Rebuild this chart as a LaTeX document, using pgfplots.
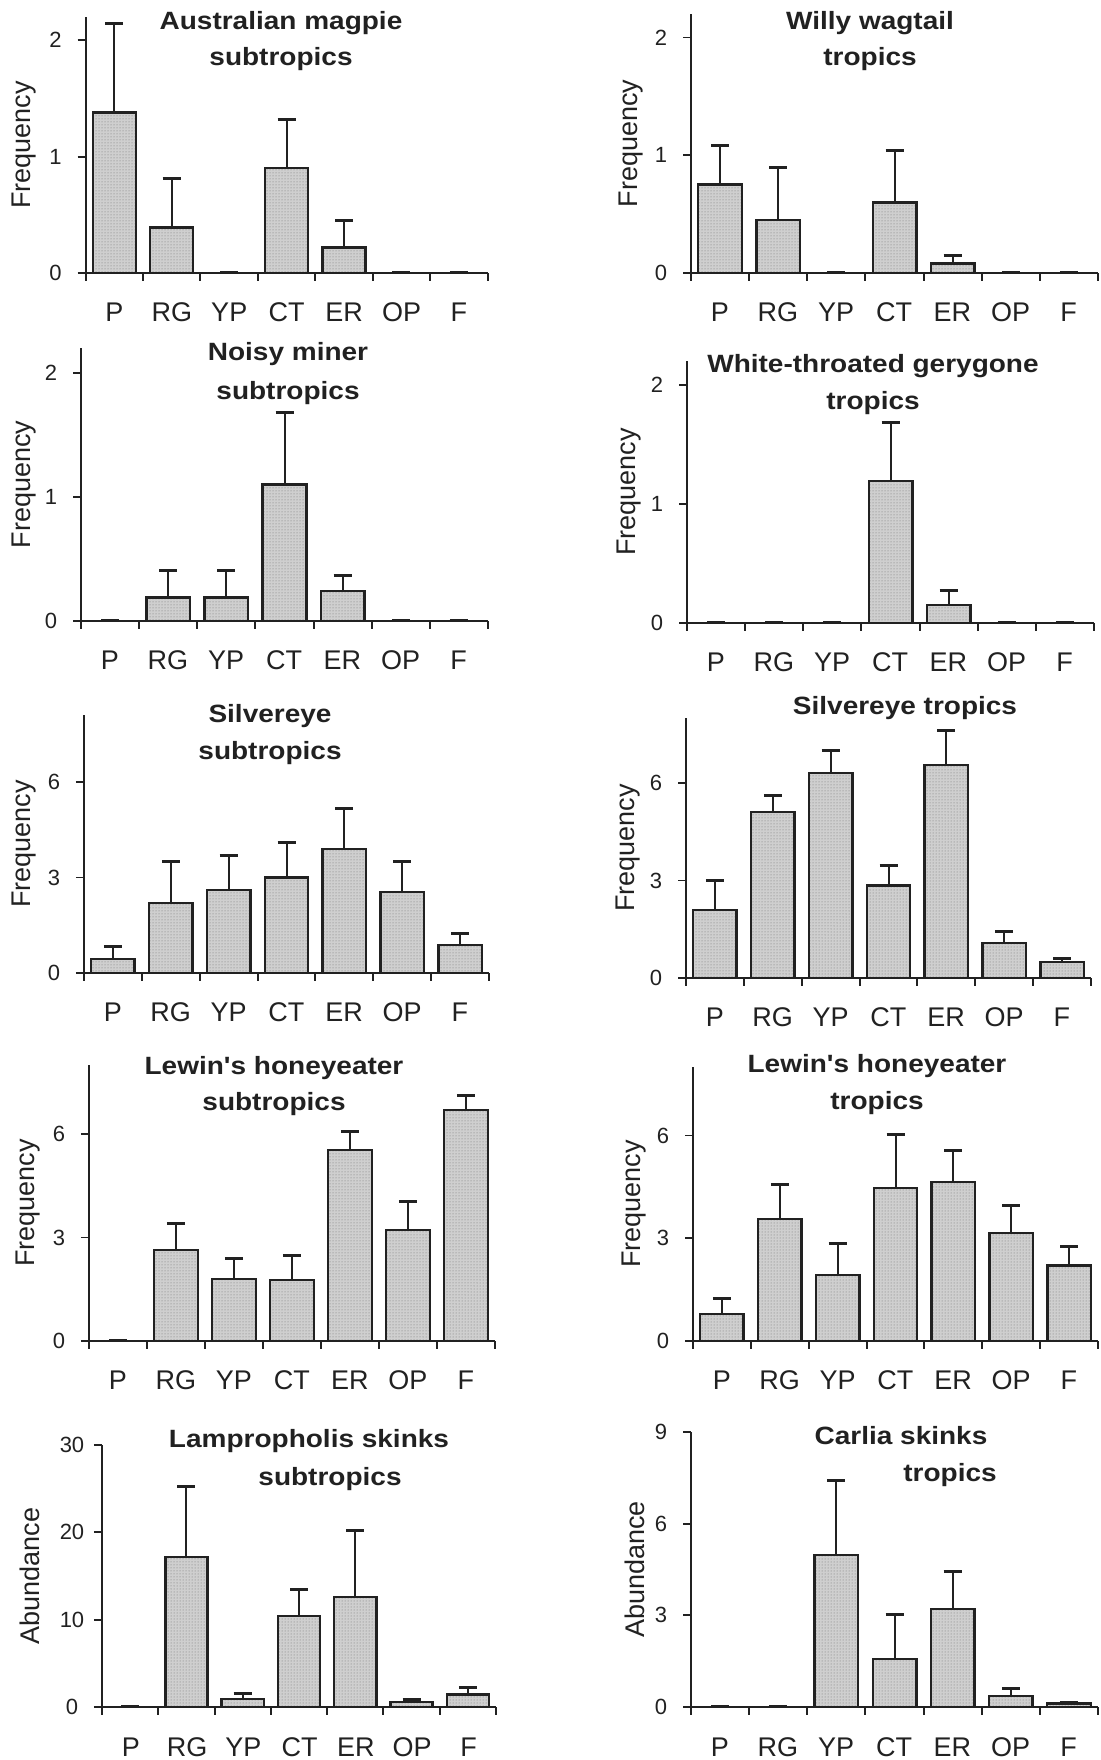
\documentclass[border=0pt]{standalone}
\usepackage{fontspec}
\setmainfont{Liberation Sans}
\newfontfamily\titlefont{Liberation Sans}[FakeStretch=1.12]
\usepackage{pgfplots}
\usepackage{pgfplotstable}
\pgfplotsset{compat=1.18}
\usetikzlibrary{patterns}

\definecolor{ink}{gray}{0.13}

% mean and standard error per habitat: P RG YP CT ER OP F
\pgfplotstableread{
x   y     e
0.5 1.38  0.76
1.5 0.39  0.42
2.5 0     0
3.5 0.90  0.42
4.5 0.22  0.23
5.5 0     0
6.5 0     0
}\magpie
\pgfplotstableread{
x   y     e
0.5 0.75  0.33
1.5 0.45  0.45
2.5 0     0
3.5 0.60  0.44
4.5 0.08  0.07
5.5 0     0
6.5 0     0
}\wagtail
\pgfplotstableread{
x   y     e
0.5 0     0
1.5 0.19  0.22
2.5 0.19  0.22
3.5 1.10  0.58
4.5 0.24  0.13
5.5 0     0
6.5 0     0
}\miner
\pgfplotstableread{
x   y     e
0.5 0     0
1.5 0     0
2.5 0     0
3.5 1.19  0.49
4.5 0.15  0.12
5.5 0     0
6.5 0     0
}\gerygone
\pgfplotstableread{
x   y     e
0.5 0.44  0.38
1.5 2.20  1.30
2.5 2.60  1.10
3.5 3.00  1.10
4.5 3.90  1.25
5.5 2.55  0.95
6.5 0.88  0.37
}\silvsub
\pgfplotstableread{
x   y     e
0.5 2.10  0.90
1.5 5.10  0.50
2.5 6.30  0.70
3.5 2.85  0.60
4.5 6.55  1.05
5.5 1.08  0.34
6.5 0.50  0.10
}\silvtrop
\pgfplotstableread{
x   y     e
0.5 0     0
1.5 2.64  0.78
2.5 1.80  0.60
3.5 1.77  0.72
4.5 5.54  0.52
5.5 3.22  0.81
6.5 6.70  0.43
}\lewsub
\pgfplotstableread{
x   y     e
0.5 0.78  0.47
1.5 3.57  1.01
2.5 1.93  0.92
3.5 4.47  1.56
4.5 4.64  0.93
5.5 3.15  0.82
6.5 2.20  0.56
}\lewtrop
\pgfplotstableread{
x   y     e
0.5 0     0
1.5 17.2  8.0
2.5 0.9   0.7
3.5 10.4  3.1
4.5 12.6  7.6
5.5 0.57  0.28
6.5 1.45  0.75
}\lampro
\pgfplotstableread{
x   y     e
0.5 0     0
1.5 0     0
2.5 4.97  2.45
3.5 1.57  1.47
4.5 3.20  1.24
5.5 0.36  0.26
6.5 0.12  0.04
}\carlia

\pgfplotsset{
  panel/.style={
    scale only axis, anchor=south west,
    xmin=0, xmax=7, ymin=0,
    axis lines*=left,
    axis line style={line width=1.8pt, ink},
    tick align=outside, tick pos=left,
    % ticks between the habitats, names shifted to the middle of each slot
    xtick={0,1,...,7},
    xticklabels={P,RG,YP,CT,ER,OP,F,{}},
    major tick length=8pt,
    xtick style={line width=2pt, draw=ink},
    ytick style={line width=1.8pt, draw=ink},
    xticklabel style={font=\fontsize{27}{30}\selectfont, text=ink, anchor=base, yshift=-41pt, xshift=28.8pt},
    yticklabel style={font=\fontsize{22}{24}\selectfont, text=ink, anchor=center, xshift=-22pt},
    /pgf/number format/assume math mode=true,
    ylabel={Frequency},
    ylabel style={font=\fontsize{27}{30}\selectfont, text=ink, anchor=center},
  },
  bars/.style={
    ybar, bar width=0.75, bar shift=0pt,
    fill=black!19, draw=ink, line width=2.4pt,
    postaction={pattern=dots, pattern color=black!55},
    error bars/.cd, y dir=plus, y explicit,
    error bar style={line width=2pt, ink},
    error mark options={rotate=90, line width=3pt, mark size=9pt, ink},
  },
}

\tikzset{ttl/.style={font=\titlefont\bfseries\fontsize{25}{28}\selectfont, text=ink, anchor=mid}}

\begin{document}
\begin{tikzpicture}[x=1pt, y=1pt]
\useasboundingbox (0,0) rectangle (1100,1760);

% row 1
\begin{axis}[panel, at={(85.6pt,1487pt)}, width=402pt, height=256pt,
  ymax=2.2, ytick={0,1,2}, ylabel style={at={(axis description cs:-0.152,0.5)}}]
\addplot[bars] table[x=x, y=y, y error=e] {\magpie};
\end{axis}
\begin{axis}[panel, at={(691pt,1487pt)}, width=407pt, height=259pt,
  ymax=2.2, ytick={0,1,2}, ylabel style={at={(axis description cs:-0.147,0.5)}}]
\addplot[bars] table[x=x, y=y, y error=e] {\wagtail};
\end{axis}

% row 2
\begin{axis}[panel, at={(81pt,1139pt)}, width=407pt, height=273pt,
  ymax=2.2, ytick={0,1,2}, ylabel style={at={(axis description cs:-0.139,0.5)}}]
\addplot[bars] table[x=x, y=y, y error=e] {\miner};
\end{axis}
\begin{axis}[panel, at={(687pt,1137pt)}, width=407pt, height=262pt,
  ymax=2.2, ytick={0,1,2}, ylabel style={at={(axis description cs:-0.143,0.5)}}]
\addplot[bars] table[x=x, y=y, y error=e] {\gerygone};
\end{axis}

% row 3
\begin{axis}[panel, at={(84pt,787pt)}, width=405pt, height=258pt,
  ymax=8.1, ytick={0,3,6}, ylabel style={at={(axis description cs:-0.147,0.5)}}]
\addplot[bars] table[x=x, y=y, y error=e] {\silvsub};
\end{axis}
\begin{axis}[panel, at={(686pt,782pt)}, width=405pt, height=260pt,
  ymax=8, ytick={0,3,6}, ylabel style={at={(axis description cs:-0.143,0.5)}}]
\addplot[bars] table[x=x, y=y, y error=e] {\silvtrop};
\end{axis}

% row 4
\begin{axis}[panel, at={(89pt,419pt)}, width=406pt, height=276pt,
  ymax=8, ytick={0,3,6}, ylabel style={at={(axis description cs:-0.150,0.5)}}]
\addplot[bars] table[x=x, y=y, y error=e] {\lewsub};
\end{axis}
\begin{axis}[panel, at={(693pt,419pt)}, width=405pt, height=274pt,
  ymax=8, ytick={0,3,6}, ylabel style={at={(axis description cs:-0.146,0.5)}}]
\addplot[bars] table[x=x, y=y, y error=e] {\lewtrop};
\end{axis}

% row 5
\begin{axis}[panel, at={(102pt,53pt)}, width=394pt, height=262pt,
  ymax=30, ytick={0,10,20,30}, ylabel={Abundance},
  ylabel style={at={(axis description cs:-0.183,0.5)}}]
\addplot[bars] table[x=x, y=y, y error=e] {\lampro};
\end{axis}
\begin{axis}[panel, at={(691pt,53pt)}, width=407pt, height=275pt,
  ymax=9, ytick={0,3,6,9}, ylabel={Abundance},
  ylabel style={at={(axis description cs:-0.138,0.5)}}]
\addplot[bars] table[x=x, y=y, y error=e] {\carlia};
\end{axis}

% panel titles
\node[ttl] at (281,1733) {Australian magpie};
\node[ttl] at (281,1697) {subtropics};
\node[ttl] at (870,1733) {Willy wagtail};
\node[ttl] at (870,1697) {tropics};
\node[ttl] at (288,1402) {Noisy miner};
\node[ttl] at (288,1363) {subtropics};
\node[ttl] at (873,1390) {White-throated gerygone};
\node[ttl] at (873,1353) {tropics};
\node[ttl] at (270,1040) {Silvereye};
\node[ttl] at (270,1003) {subtropics};
\node[ttl] at (905,1048) {Silvereye tropics};
\node[ttl] at (274,688) {Lewin's honeyeater};
\node[ttl] at (274,652) {subtropics};
\node[ttl] at (877,690) {Lewin's honeyeater};
\node[ttl] at (877,653) {tropics};
\node[ttl] at (309,315) {Lampropholis skinks};
\node[ttl] at (330,277) {subtropics};
\node[ttl] at (901,318) {Carlia skinks};
\node[ttl] at (950,281) {tropics};
\end{tikzpicture}
\end{document}
